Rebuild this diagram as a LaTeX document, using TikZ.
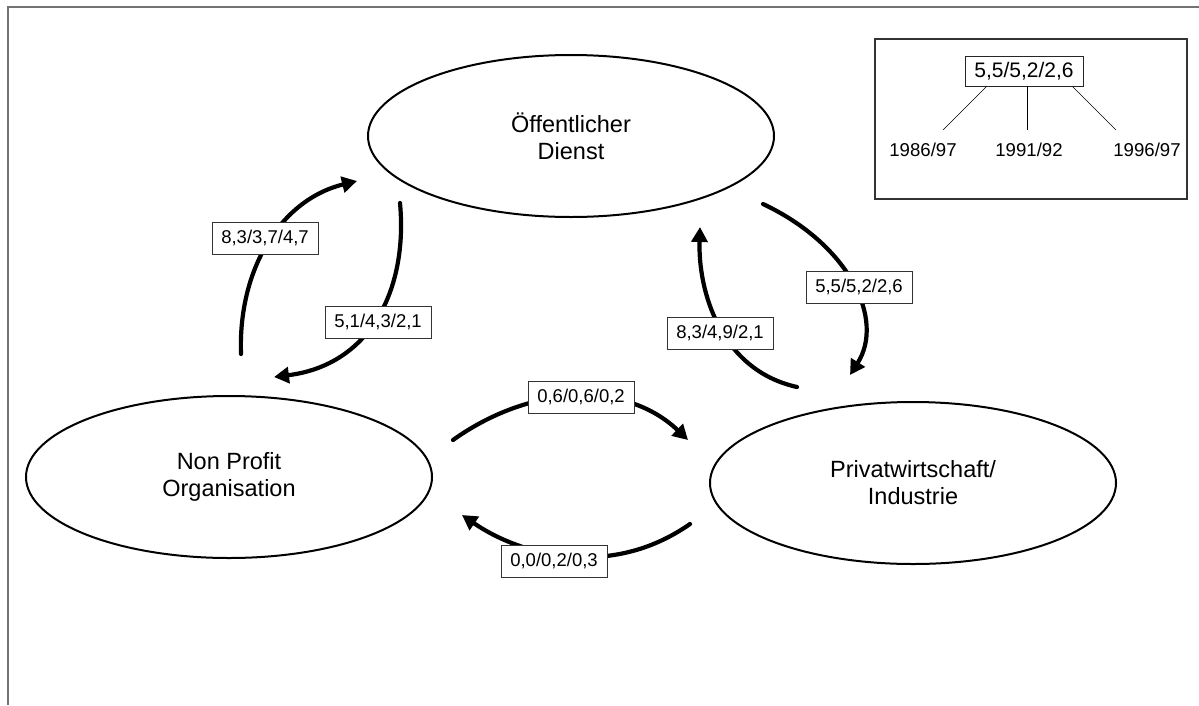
\documentclass[tikz,border=0pt]{standalone}
\usepackage{fontspec}
\setmainfont{Liberation Sans}
\usetikzlibrary{shapes.geometric,arrows.meta}
\begin{document}
\begin{tikzpicture}[x=1pt,y=-1pt,
  sector/.style={draw,ellipse,line width=2pt,minimum width=406pt,minimum height=162pt,inner sep=0pt,align=center,font=\fontsize{23.5}{27}\selectfont},
  flow/.style={line width=4.2pt,line cap=round,-{Triangle[length=15pt,width=16pt]}},
  val/.style={draw=black!80,fill=white,line width=0.9pt,minimum width=106pt,minimum height=32pt,inner sep=0pt,font=\fontsize{18.5}{21}\selectfont},
  frame/.style={draw=black!55,line width=1.8pt},
  legendbox/.style={draw=black!80,line width=1.5pt,minimum width=312pt,minimum height=160pt,inner sep=0pt},
  legtopbox/.style={draw=black!85,line width=0.9pt,fill=white,minimum width=118pt,minimum height=30pt,inner sep=0pt,font=\fontsize{21}{24}\selectfont},
  year/.style={inner sep=0pt,font=\fontsize{18.6}{21}\selectfont},
  legline/.style={line width=0.6pt}]
\useasboundingbox (0,0) rectangle (1199,705);
% outer frame
\coordinate (fa) at (8,705);
\coordinate (fb) at (8,7);
\coordinate (fc) at (1199,7);
\draw[frame] (fa) -- (fb) -- (fc);

% sectors
\node[sector] (od) at (571,136) {Öffentlicher\\Dienst};
\node[sector] (npo) at (229,477) {Non Profit\\Organisation};
\node[sector] (pw) at (913,483) {Privatwirtschaft/\\Industrie};

% flow end points
\coordinate (s1) at (241,354); \coordinate (e1) at (357,181);
\coordinate (s2) at (400,203); \coordinate (e2) at (274,377);
\coordinate (s3) at (763,204); \coordinate (e3) at (850,375);
\coordinate (s4) at (797,387); \coordinate (e4) at (700,227);
\coordinate (s5) at (453,440); \coordinate (e5) at (688,440);
\coordinate (s6) at (690,524); \coordinate (e6) at (462,515);

\draw[flow] (s1) .. controls (238,270) and (280,200) .. (e1);
\draw[flow] (s2) .. controls (408,290) and (370,365) .. (e2);
\draw[flow] (s3) .. controls (850,245) and (885,320) .. (e3);
\draw[flow] (s4) .. controls (720,370) and (698,290) .. (e4);
\draw[flow] (s5) .. controls (530,385) and (625,380) .. (e5);
\draw[flow] (s6) .. controls (610,580) and (520,555) .. (e6);

% flow labels
\node[val] (l1) at (265,238) {8,3/3,7/4,7};
\node[val] (l2) at (378,322) {5,1/4,3/2,1};
\node[val] (l3) at (859,287) {5,5/5,2/2,6};
\node[val] (l4) at (720,333) {8,3/4,9/2,1};
\node[val] (l5) at (581,397) {0,6/0,6/0,2};
\node[val] (l6) at (554,561) {0,0/0,2/0,3};

% legend
\node[legendbox] (legend) at (1031,119) {};
\node[legtopbox] (legtop) at (1024,71) {5,5/5,2/2,6};
\node[year] (y1) at (923,150) {1986/97};
\node[year] (y2) at (1029,150) {1991/92};
\node[year] (y3) at (1147,150) {1996/97};
\coordinate (t1) at (943,130);
\coordinate (t2) at (1027,130);
\coordinate (t3) at (1116,130);
\draw[legline] ([xshift=22pt]legtop.south west) -- (t1);
\draw[legline] ([xshift=3pt]legtop.south) -- (t2);
\draw[legline] ([xshift=-11pt]legtop.south east) -- (t3);
\end{tikzpicture}
\end{document}
